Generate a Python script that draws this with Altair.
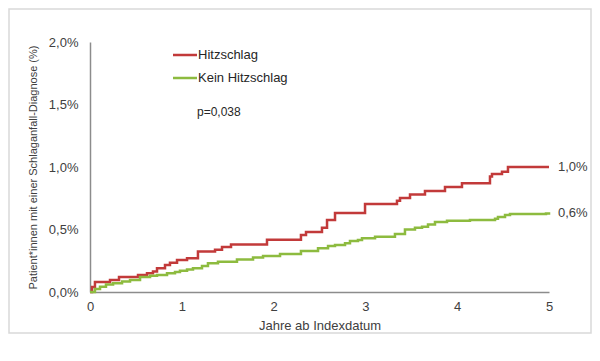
import altair as alt
import pandas as pd

# Hitzschlag (red) step points: years, cumulative incidence in %
red_t = [0, 0.022, 0.054, 0.218, 0.316, 0.523, 0.621, 0.686, 0.730, 0.817, 0.871, 0.948,
         1.057, 1.176, 1.362, 1.438, 1.536, 1.928, 2.298, 2.353, 2.527, 2.582, 2.669,
         2.996, 3.344, 3.377, 3.486, 3.649, 3.867, 4.052, 4.357, 4.379, 4.488, 4.553, 5.0]
red_v = [0, 0.04, 0.08, 0.096, 0.12, 0.136, 0.15, 0.165, 0.19, 0.216, 0.235, 0.256,
         0.27, 0.325, 0.338, 0.36, 0.38, 0.418, 0.456, 0.48, 0.515, 0.576, 0.632,
         0.705, 0.73, 0.752, 0.78, 0.808, 0.84, 0.87, 0.925, 0.945, 0.963, 1.0, 1.0]

# Kein Hitzschlag (green)
green_t = [0, 0.054, 0.109, 0.174, 0.251, 0.349, 0.436, 0.545, 0.654, 0.730, 0.839, 0.926,
           0.980, 1.057, 1.122, 1.220, 1.285, 1.394, 1.601, 1.776, 1.885, 2.070, 2.298,
           2.484, 2.593, 2.669, 2.778, 2.832, 2.919, 2.963, 3.105, 3.322, 3.431, 3.540,
           3.617, 3.682, 3.758, 3.889, 4.139, 4.412, 4.444, 4.521, 4.575, 4.967, 5.0]
green_v = [0, 0.025, 0.043, 0.06, 0.07, 0.085, 0.096, 0.12, 0.13, 0.136, 0.15, 0.16,
           0.17, 0.18, 0.19, 0.208, 0.23, 0.243, 0.26, 0.277, 0.288, 0.304, 0.328,
           0.35, 0.368, 0.376, 0.39, 0.408, 0.416, 0.43, 0.443, 0.464, 0.50, 0.515,
           0.523, 0.54, 0.56, 0.57, 0.576, 0.586, 0.60, 0.616, 0.624, 0.628, 0.638]

series_names = ["Hitzschlag", "Kein Hitzschlag"]
colors = ["#C23A3A", "#8DBB3F"]
end_labels = ["1,0%", "0,6%"]
end_values = [1.0, 0.63]
x_ticks = [0, 1, 2, 3, 4, 5]
y_ticks = [0, 0.5, 1.0, 1.5, 2.0]
p_text = "p=0,038"

W, H = 459, 250
FONT = "Liberation Sans"
TXT = "#404040"

df = pd.concat([
    pd.DataFrame({"t": red_t, "v": red_v, "s": series_names[0]}),
    pd.DataFrame({"t": green_t, "v": green_v, "s": series_names[1]}),
])

xs = alt.Scale(domain=[0, 5], nice=False)
ys = alt.Scale(domain=[0, 2], nice=False)
cs = alt.Scale(domain=series_names, range=colors)

one = pd.DataFrame({"a": [0]})

frame = alt.Chart(one).mark_rect(
    fill=None, stroke="#d9d9d9", strokeWidth=1.5
).encode(x=alt.value(-81), x2=alt.value(501), y=alt.value(-33), y2=alt.value(291))

lines = alt.Chart(df).mark_line(interpolate="step-after", strokeWidth=2.5).encode(
    x=alt.X("t:Q", scale=xs,
            axis=alt.Axis(values=x_ticks, title="Jahre ab Indexdatum", grid=False,
                          ticks=False, domainColor="#8c8c8c", domainWidth=1.5,
                          labelFlush=False,
                          labelFontSize=13, labelColor=TXT, labelFont=FONT, labelPadding=8,
                          titleFont=FONT, titleFontSize=13, titleColor=TXT,
                          titleFontWeight="normal", titlePadding=6)),
    y=alt.Y("v:Q", scale=ys,
            axis=alt.Axis(values=y_ticks, grid=False, ticks=False,
                          domainColor="#8c8c8c", domainWidth=1.5,
                          labelExpr="replace(format(datum.value, '.1f'), '.', ',') + '%'",
                          labelFontSize=13, labelColor=TXT, labelFont=FONT, labelPadding=12,
                          title="Patient*innen mit einer Schlaganfall-Diagnose  (%)",
                          titleFont=FONT, titleFontSize=11, titleColor=TXT,
                          titleFontWeight="normal", titlePadding=10)),
    color=alt.Color("s:N", scale=cs, legend=None),
)

ends = alt.Chart(pd.DataFrame({"v": end_values, "l": end_labels})).mark_text(
    align="left", baseline="middle", font=FONT, fontSize=13, color=TXT
).encode(x=alt.value(W + 9), y=alt.Y("v:Q", scale=ys), text="l:N")

def legend_item(i, ypix):
    r = alt.Chart(one).mark_rule(strokeWidth=2.5, color=colors[i]).encode(
        x=alt.value(83), x2=alt.value(107), y=alt.value(ypix))
    t = alt.Chart(pd.DataFrame({"l": [series_names[i]]})).mark_text(
        align="left", baseline="middle", font=FONT, fontSize=13, color="#262626"
    ).encode(x=alt.value(108), y=alt.value(ypix), text="l:N")
    return r, t

r1, t1 = legend_item(0, 13)
r2, t2 = legend_item(1, 36)

ptext = alt.Chart(pd.DataFrame({"l": [p_text]})).mark_text(
    align="left", baseline="middle", font=FONT, fontSize=12, color="#262626"
).encode(x=alt.value(107), y=alt.value(70), text="l:N")

chart = alt.layer(frame, lines, ends, r1, t1, r2, t2, ptext).properties(
    width=W, height=H,
    autosize=alt.AutoSizeParams(type="none"),
    padding={"left": 82, "top": 34, "right": 43, "bottom": 50},
    background="white",
).configure_view(stroke=None)

chart.save("out.html", embed_options={"renderer": "svg", "actions": False})
